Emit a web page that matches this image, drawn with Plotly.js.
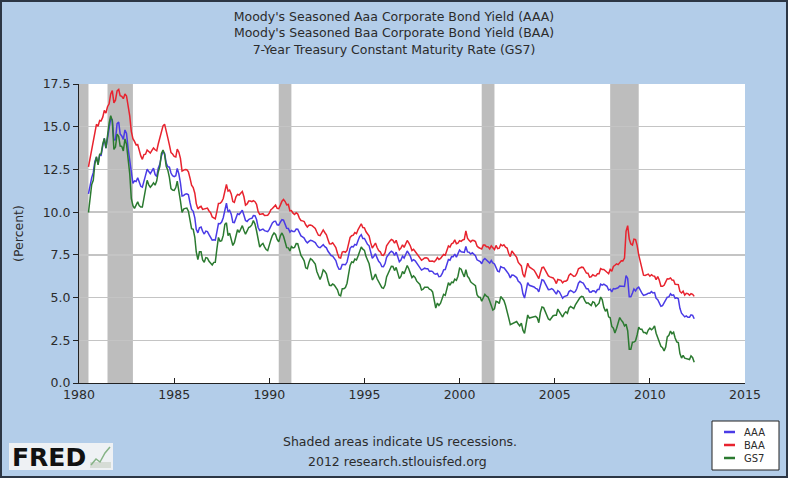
<!DOCTYPE html>
<html>
<head>
<meta charset="utf-8">
<script src="https://cdn.plot.ly/plotly-3.0.1.min.js"></script>
<style>
  html, body { margin: 0; padding: 0; background: #b3cde9; }
  #wrap { position: relative; width: 788px; height: 478px; }
  #chart { width: 788px; height: 478px; }
  #frame { position: absolute; left: 0; top: 0; width: 788px; height: 478px; box-sizing: border-box;
           border: 2px solid #2c3644; pointer-events: none; }
</style>
</head>
<body>
<div id="wrap"><div id="chart"></div><div id="frame"></div></div>
<script>
// Monthly series, first value = July 1980, last value = May 2012
const startYear = 1980, startMonth = 7;

const aaa = [
  11.07, 11.64, 12.02, 12.31, 12.97, 13.21,
  12.81, 13.35, 13.33, 13.88, 14.32, 13.75, 14.38, 14.89, 15.49, 15.40, 14.22, 14.23,
  15.18, 15.27, 14.58, 14.46, 14.26, 14.81, 14.61, 13.71, 12.94, 12.12, 11.68, 11.83,
  11.79, 12.01, 11.73, 11.51, 11.46, 11.74, 12.15, 12.51, 12.37, 12.25, 12.41, 12.57,
  12.20, 12.08, 12.57, 12.81, 13.28, 13.55, 13.44, 12.87, 12.66, 12.63, 12.29, 12.13,
  12.08, 12.13, 12.56, 12.23, 11.72, 10.94, 10.97, 11.05, 11.07, 11.02, 10.55, 10.16,
  10.05, 9.67, 9.00, 8.79, 9.09, 9.13, 8.88, 8.72, 8.89, 8.86, 8.68, 8.49,
  8.36, 8.38, 8.36, 8.85, 9.33, 9.32, 9.42, 9.67, 10.18, 10.52, 10.01, 10.11,
  9.88, 9.40, 9.39, 9.67, 9.90, 9.86, 9.96, 10.11, 9.82, 9.51, 9.45, 9.57,
  9.62, 9.64, 9.80, 9.79, 9.57, 9.10, 8.93, 8.96, 9.01, 8.92, 8.89, 8.86,
  8.99, 9.22, 9.37, 9.46, 9.47, 9.26, 9.24, 9.41, 9.56, 9.53, 9.30, 9.05,
  9.04, 8.83, 8.93, 8.86, 8.86, 9.01, 9.00, 8.75, 8.61, 8.55, 8.48, 8.31,
  8.20, 8.29, 8.35, 8.33, 8.28, 8.22, 8.07, 7.95, 7.92, 7.99, 8.10, 7.98,
  7.91, 7.71, 7.58, 7.46, 7.43, 7.33, 7.17, 6.85, 6.66, 6.67, 6.93, 6.93,
  6.92, 7.08, 7.48, 7.88, 7.99, 7.97, 8.11, 8.07, 8.34, 8.57, 8.68, 8.46,
  8.46, 8.26, 8.12, 8.03, 7.65, 7.30, 7.41, 7.57, 7.32, 7.12, 7.02, 6.82,
  6.81, 6.99, 7.35, 7.50, 7.62, 7.71, 7.65, 7.46, 7.66, 7.39, 7.10, 7.20,
  7.42, 7.31, 7.55, 7.73, 7.58, 7.41, 7.14, 7.22, 7.15, 7.00, 6.87, 6.76,
  6.61, 6.67, 6.72, 6.69, 6.69, 6.53, 6.55, 6.52, 6.40, 6.37, 6.41, 6.22,
  6.24, 6.40, 6.62, 6.64, 6.93, 7.23, 7.19, 7.40, 7.39, 7.55, 7.36, 7.55,
  7.78, 7.68, 7.68, 7.64, 7.99, 7.67, 7.65, 7.55, 7.62, 7.55, 7.45, 7.21,
  7.15, 7.10, 6.98, 7.20, 7.29, 7.18, 7.13, 7.02, 7.17, 7.03, 6.97, 6.77,
  6.55, 6.51, 6.81, 6.76, 6.75, 6.63, 6.53, 6.37, 6.15, 6.32, 6.31, 6.21,
  6.17, 5.95, 5.89, 5.74, 5.22, 4.97, 5.49, 5.88, 5.72, 5.70, 5.65, 5.62,
  5.54, 5.50, 5.33, 5.73, 6.04, 6.01, 5.82, 5.65, 5.46, 5.47, 5.52, 5.47,
  5.36, 5.20, 5.40, 5.33, 5.15, 4.96, 5.06, 5.09, 5.13, 5.35, 5.42, 5.37,
  5.29, 5.35, 5.53, 5.84, 5.95, 5.89, 5.85, 5.68, 5.51, 5.51, 5.33, 5.32,
  5.40, 5.39, 5.30, 5.47, 5.47, 5.79, 5.73, 5.79, 5.74, 5.66, 5.44, 5.49,
  5.33, 5.53, 5.51, 5.55, 5.57, 5.68, 5.67, 5.64, 5.65, 6.28, 6.12, 5.05,
  5.05, 5.27, 5.50, 5.39, 5.54, 5.61, 5.41, 5.26, 5.13, 5.15, 5.19, 5.26,
  5.26, 5.35, 5.27, 5.29, 4.96, 4.88, 4.72, 4.49, 4.53, 4.68, 4.87, 5.02,
  5.04, 5.22, 5.13, 5.16, 4.96, 4.99, 4.93, 4.37, 4.09, 3.98, 3.87, 3.93,
  3.85, 3.85, 3.99, 3.96, 3.76
];

const baa = [
  12.65, 13.15, 13.70, 14.23, 14.64, 15.14,
  15.03, 15.37, 15.34, 15.56, 15.95, 15.80, 16.17, 16.34, 16.92, 17.11, 16.39, 16.55,
  17.10, 17.18, 16.82, 16.78, 16.64, 16.92, 16.80, 16.32, 15.63, 14.73, 14.30, 14.14,
  13.94, 13.95, 13.61, 13.29, 13.09, 13.37, 13.39, 13.64, 13.55, 13.46, 13.61, 13.75,
  13.65, 13.59, 13.99, 14.31, 14.74, 15.05, 15.15, 14.63, 14.35, 13.94, 13.48, 13.40,
  13.26, 13.23, 13.69, 13.51, 13.15, 12.40, 12.43, 12.50, 12.48, 12.36, 11.99, 11.58,
  11.44, 11.11, 10.50, 10.19, 10.29, 10.34, 10.16, 10.18, 10.20, 10.24, 10.07, 9.97,
  9.72, 9.65, 9.61, 10.04, 10.51, 10.52, 10.61, 10.80, 11.31, 11.62, 11.23, 11.29,
  11.07, 10.62, 10.57, 10.90, 11.04, 11.00, 11.11, 11.21, 10.90, 10.41, 10.48, 10.65,
  10.65, 10.61, 10.67, 10.61, 10.46, 10.03, 9.87, 9.88, 9.91, 9.81, 9.81, 9.82,
  9.94, 10.14, 10.21, 10.30, 10.41, 10.22, 10.20, 10.41, 10.64, 10.74, 10.62, 10.43,
  10.45, 10.07, 10.09, 9.94, 9.86, 9.96, 9.89, 9.65, 9.51, 9.49, 9.45, 9.26,
  9.13, 9.23, 9.25, 9.21, 9.13, 9.05, 8.84, 8.65, 8.62, 8.84, 8.96, 8.81,
  8.67, 8.39, 8.15, 8.14, 8.21, 8.07, 7.93, 7.60, 7.34, 7.31, 7.66, 7.69,
  7.65, 7.76, 8.13, 8.52, 8.62, 8.65, 8.80, 8.74, 8.98, 9.20, 9.32, 9.10,
  9.08, 8.85, 8.70, 8.60, 8.20, 7.90, 8.04, 8.19, 7.93, 7.75, 7.68, 7.49,
  7.47, 7.63, 8.03, 8.19, 8.30, 8.40, 8.35, 8.18, 8.35, 8.07, 7.79, 7.89,
  8.09, 7.94, 8.18, 8.34, 8.20, 8.02, 7.75, 7.82, 7.70, 7.57, 7.42, 7.32,
  7.19, 7.25, 7.32, 7.33, 7.30, 7.13, 7.15, 7.14, 7.09, 7.18, 7.34, 7.23,
  7.29, 7.39, 7.53, 7.48, 7.72, 8.02, 7.95, 8.15, 8.20, 8.38, 8.15, 8.19,
  8.33, 8.29, 8.37, 8.40, 8.90, 8.48, 8.35, 8.26, 8.35, 8.34, 8.28, 8.02,
  7.93, 7.87, 7.84, 8.07, 8.07, 7.97, 7.97, 7.85, 8.03, 7.91, 7.81, 8.05,
  7.87, 7.89, 8.11, 8.03, 8.09, 7.95, 7.90, 7.58, 7.40, 7.73, 7.62, 7.45,
  7.35, 7.06, 6.95, 6.85, 6.38, 6.19, 6.62, 7.01, 6.79, 6.73, 6.66, 6.60,
  6.44, 6.27, 6.11, 6.46, 6.75, 6.78, 6.62, 6.46, 6.27, 6.21, 6.20, 6.15,
  6.02, 5.82, 6.06, 6.05, 6.01, 5.86, 5.95, 5.96, 6.03, 6.30, 6.39, 6.32,
  6.24, 6.27, 6.41, 6.68, 6.75, 6.78, 6.76, 6.59, 6.43, 6.42, 6.20, 6.22,
  6.34, 6.28, 6.27, 6.39, 6.39, 6.70, 6.65, 6.65, 6.59, 6.48, 6.40, 6.65,
  6.54, 6.82, 6.89, 6.97, 6.93, 7.07, 7.16, 7.15, 7.31, 8.88, 9.21, 8.43,
  8.14, 8.08, 8.42, 8.39, 8.06, 7.50, 7.09, 6.58, 6.31, 6.29, 6.32, 6.37,
  6.25, 6.34, 6.27, 6.25, 6.05, 6.23, 6.01, 5.66, 5.66, 5.72, 5.92, 6.10,
  6.09, 6.15, 6.03, 6.02, 5.78, 5.75, 5.76, 5.36, 5.27, 5.37, 5.14, 5.25,
  5.23, 5.14, 5.23, 5.19, 5.07
];

const gs7 = [
  9.98, 10.84, 11.62, 11.86, 12.83, 13.25,
  12.77, 13.39, 13.41, 13.99, 14.32, 13.75, 14.55, 15.20, 15.65, 15.34, 13.67, 13.82,
  14.57, 14.43, 13.87, 13.85, 13.58, 14.29, 13.97, 13.05, 12.25, 10.80, 10.38, 10.22,
  10.42, 10.60, 10.38, 10.30, 10.30, 10.88, 11.42, 11.86, 11.60, 11.46, 11.57, 11.71,
  11.58, 11.83, 12.35, 12.68, 13.44, 13.64, 13.38, 12.69, 12.46, 12.04, 11.38, 11.29,
  11.27, 11.44, 11.82, 11.33, 10.66, 9.98, 10.18, 10.22, 10.24, 10.06, 9.60, 9.03,
  9.00, 8.53, 7.67, 7.22, 7.68, 7.68, 7.20, 7.07, 7.34, 7.31, 7.12, 7.00,
  6.91, 7.06, 7.07, 7.85, 8.52, 8.29, 8.33, 8.64, 9.28, 9.38, 8.63, 8.77,
  8.47, 8.05, 8.21, 8.57, 8.97, 8.81, 8.98, 9.21, 8.92, 8.71, 8.90, 9.10,
  9.15, 9.27, 9.51, 9.30, 8.91, 8.29, 7.95, 8.09, 8.17, 7.97, 7.81, 7.75,
  8.12, 8.39, 8.63, 8.78, 8.69, 8.40, 8.26, 8.61, 8.78, 8.59, 8.25, 7.92,
  7.91, 7.73, 7.99, 7.91, 7.94, 8.16, 8.15, 7.71, 7.47, 7.32, 7.15, 6.74,
  6.69, 7.05, 7.28, 7.21, 7.11, 6.96, 6.53, 6.23, 6.06, 6.28, 6.62, 6.54,
  6.39, 6.00, 5.72, 5.70, 5.79, 5.73, 5.62, 5.45, 5.15, 5.10, 5.52, 5.52,
  5.59, 5.84, 6.35, 6.88, 7.09, 7.05, 7.25, 7.20, 7.43, 7.73, 7.96, 7.83,
  7.76, 7.40, 7.14, 6.98, 6.50, 6.03, 6.17, 6.38, 6.10, 5.94, 5.80, 5.58,
  5.54, 5.73, 6.21, 6.44, 6.66, 6.83, 6.82, 6.58, 6.77, 6.45, 6.11, 6.24,
  6.53, 6.39, 6.68, 6.88, 6.69, 6.46, 6.17, 6.27, 6.17, 5.96, 5.84, 5.77,
  5.45, 5.49, 5.60, 5.61, 5.61, 5.49, 5.45, 5.33, 4.73, 4.39, 4.68, 4.54,
  4.67, 4.96, 5.19, 5.13, 5.49, 5.87, 5.72, 5.90, 5.88, 6.08, 6.01, 6.25,
  6.72, 6.66, 6.42, 6.21, 6.63, 6.25, 6.13, 5.92, 5.84, 5.77, 5.69, 5.17,
  5.03, 5.01, 4.79, 4.99, 5.19, 5.08, 5.03, 4.80, 4.48, 4.27, 4.34, 4.78,
  4.74, 4.65, 5.06, 4.96, 4.83, 4.55, 4.25, 3.81, 3.41, 3.45, 3.53, 3.55,
  3.60, 3.45, 3.34, 3.50, 3.09, 2.90, 3.51, 3.98, 3.80, 3.82, 3.88, 3.86,
  3.90, 3.81, 3.53, 4.14, 4.45, 4.41, 4.21, 3.92, 3.75, 3.69, 3.86, 3.94,
  3.97, 3.97, 4.33, 4.16, 3.94, 3.86, 4.06, 4.17, 4.08, 4.38, 4.48, 4.41,
  4.35, 4.57, 4.72, 4.90, 5.00, 5.07, 5.04, 4.82, 4.67, 4.69, 4.58, 4.53,
  4.75, 4.71, 4.48, 4.59, 4.67, 5.03, 4.88, 4.43, 4.20, 4.33, 3.87, 3.82,
  3.31, 3.21, 2.93, 3.19, 3.48, 3.83, 3.68, 3.56, 3.34, 3.44, 3.06, 1.98,
  1.98, 2.39, 2.40, 2.47, 2.81, 3.27, 3.14, 3.14, 2.95, 2.95, 2.88, 3.10,
  3.21, 3.12, 3.19, 3.34, 2.91, 2.69, 2.47, 2.15, 2.07, 1.88, 2.10, 2.70,
  2.79, 3.04, 2.88, 2.97, 2.63, 2.41, 2.37, 1.72, 1.46, 1.62, 1.45, 1.43,
  1.38, 1.37, 1.59, 1.48, 1.22
];

const seriesNames = ['AAA', 'BAA', 'GS7'];
const seriesColors = ['#4a3be6', '#e8232e', '#2b7a30'];

const recStart = ['1980-01-01', '1981-07-01', '1990-07-01', '2001-03-01', '2007-12-01'];
const recEnd   = ['1980-07-01', '1982-11-01', '1991-03-01', '2001-11-01', '2009-06-01'];

const titleLines = [
  "Moody's Seasoned Aaa Corporate Bond Yield (AAA)",
  "Moody's Seasoned Baa Corporate Bond Yield (BAA)",
  "7-Year Treasury Constant Maturity Rate (GS7)"
];
const yTickVals = [0, 2.5, 5, 7.5, 10, 12.5, 15, 17.5];
const xTickVals = ['1980-01-01','1985-01-01','1990-01-01','1995-01-01','2000-01-01','2005-01-01','2010-01-01','2015-01-01'];
const xTickText = ['1980','1985','1990','1995','2000','2005','2010','2015'];

function monthDates(n) {
  const out = [];
  for (let i = 0; i < n; i++) {
    const t = (startMonth - 1) + i;
    const y = startYear + Math.floor(t / 12);
    const m = (t % 12) + 1;
    out.push(y + '-' + (m < 10 ? '0' + m : m) + '-01');
  }
  return out;
}

const allSeries = [aaa, baa, gs7];
const traces = allSeries.map((vals, i) => ({
  type: 'scatter', mode: 'lines',
  x: monthDates(vals.length), y: vals,
  name: seriesNames[i],
  line: { color: seriesColors[i], width: 1.5 },
  showlegend: false
}));

const FONT = 'DejaVu Sans, Verdana, sans-serif';
const textColor = '#2b2b2b';

// pixel helpers for decorations (paper coordinates)
const PL = 79, PR = 745, PT = 84, PB = 383;
const px = v => (v - PL) / (PR - PL);
const py = v => (PB - v) / (PB - PT);

const shapes = recStart.map((s, i) => ({
  type: 'rect', xref: 'x', yref: 'paper', x0: s, x1: recEnd[i], y0: 0, y1: 1,
  fillcolor: '#bdbdbd', line: { width: 0 }, layer: 'between'
}));
// FRED logo box and icon
shapes.push({ type: 'rect', xref: 'paper', yref: 'paper',
  x0: px(9), x1: px(113), y0: py(470), y1: py(443),
  fillcolor: '#eef1f4', line: { width: 0 }, layer: 'above' });
shapes.push({ type: 'rect', xref: 'paper', yref: 'paper',
  x0: px(90), x1: px(111), y0: py(468), y1: py(462),
  fillcolor: '#d6dcd6', line: { width: 0 }, layer: 'above' });
shapes.push({ type: 'path', xref: 'paper', yref: 'paper',
  path: 'M ' + px(91) + ' ' + py(465) + ' L ' + px(96) + ' ' + py(459) +
        ' L ' + px(100) + ' ' + py(462) + ' L ' + px(105) + ' ' + py(453) +
        ' L ' + px(110) + ' ' + py(447),
  line: { color: '#86b386', width: 1.5 }, layer: 'above' });

// legend box (manual, compact like the reference)
const annotations = [];
shapes.push({ type: 'rect', xref: 'paper', yref: 'paper',
  x0: px(712), x1: px(779), y0: py(470), y1: py(421),
  fillcolor: '#ffffff', line: { color: '#222', width: 1 }, layer: 'above' });
seriesNames.forEach((nm, i) => {
  const yc = 432 + i * 13;
  shapes.push({ type: 'line', xref: 'paper', yref: 'paper',
    x0: px(724), x1: px(735), y0: py(yc), y1: py(yc),
    line: { color: seriesColors[i], width: 2.5 }, layer: 'above' });
  annotations.push({ text: nm, xref: 'paper', yref: 'paper',
    x: px(742), y: py(yc), xanchor: 'left', yanchor: 'middle', showarrow: false,
    font: { family: FONT, size: 10, color: textColor } });
});

annotations.push(
  { text: 'Shaded areas indicate US recessions.', xref: 'paper', yref: 'paper',
    x: px(400), y: py(441), xanchor: 'center', yanchor: 'middle',
    showarrow: false, font: { family: FONT, size: 12.5, color: textColor } },
  { text: '2012 research.stlouisfed.org', xref: 'paper', yref: 'paper',
    x: px(397), y: py(461), xanchor: 'center', yanchor: 'middle',
    showarrow: false, font: { family: FONT, size: 12.5, color: textColor } },
  { text: '<b>FRED</b>', xref: 'paper', yref: 'paper',
    x: px(10), y: py(457), xanchor: 'left', yanchor: 'middle',
    showarrow: false, font: { family: 'DejaVu Sans, sans-serif', size: 25, color: '#111' } }
);

const layout = {
  width: 788, height: 478,
  paper_bgcolor: '#b3cde9', plot_bgcolor: '#ffffff',
  margin: { l: PL, r: 788 - PR, t: PT, b: 478 - PB },
  font: { family: FONT, size: 12, color: textColor },
  title: {
    text: titleLines.join('<br>'),
    font: { family: FONT, size: 12.5, color: textColor },
    xref: 'container', x: 0.5, xanchor: 'center',
    yref: 'container', y: 1 - 21 / 478, yanchor: 'top'
  },
  xaxis: {
    type: 'date', range: ['1980-01-01', '2015-01-01'],
    tickvals: xTickVals, ticktext: xTickText,
    showgrid: false, zeroline: false,
    showline: true, linecolor: '#222', linewidth: 1,
    ticks: 'inside', ticklen: 5, tickcolor: '#222',
    tickfont: { family: FONT, size: 12.5, color: textColor }
  },
  yaxis: {
    range: [0, 17.5], tickvals: yTickVals, tickformat: '.1f',
    showgrid: true, gridcolor: '#c4c4c4', gridwidth: 1.5, zeroline: false,
    showline: true, linecolor: '#222', linewidth: 1,
    ticks: 'outside', ticklen: 5, tickcolor: '#222',
    tickfont: { family: FONT, size: 12.5, color: textColor },
    title: { text: '(Percent)', font: { family: FONT, size: 12.5, color: textColor }, standoff: 16 }
  },
  shapes: shapes,
  showlegend: false,
  annotations: annotations
};

Plotly.newPlot('chart', traces, layout, { displayModeBar: false, staticPlot: true });
</script>
</body>
</html>
